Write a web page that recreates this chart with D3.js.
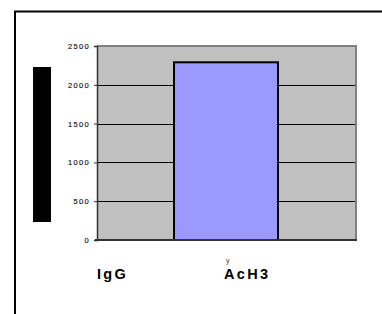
<!DOCTYPE html>
<html><head><meta charset="utf-8">
<script src="https://cdn.jsdelivr.net/npm/d3@7"></script>
<style>body{margin:0;background:#fff;}svg{display:block;}</style>
</head><body>
<svg id="c" width="382" height="314"></svg>
<script>
const categories = ["IgG", "AcH3"];
const values = [0, 2290];
const yTicks = [0, 500, 1000, 1500, 2000, 2500];
const yMax = 2500;

const svg = d3.select("#c");
// outer frame (extends beyond right/bottom)
svg.append("path").attr("d","M15,400 L15,11.5 L400,11.5").attr("fill","none").attr("stroke","#000").attr("stroke-width",2);

const L=97, R=356, T=46, B=240;
const x = d3.scaleBand().domain(categories).range([18, 278]).paddingInner(1/3).paddingOuter(0);
const y = d3.scaleLinear().domain([0, yMax]).range([B, T]);

// plot background
svg.append("rect").attr("x",L).attr("y",T).attr("width",R-L).attr("height",B-T).attr("fill","#c0c0c0");
// gridlines
svg.append("g").selectAll("line").data(yTicks.filter(d=>d>0 && d<yMax)).join("line")
  .attr("x1",L).attr("x2",R).attr("y1",d=>Math.round(y(d))+0.5).attr("y2",d=>Math.round(y(d))+0.5)
  .attr("stroke","#000").attr("stroke-width",1);
// plot border top/right
svg.append("path").attr("d",`M${L},${T} L${R},${T} L${R},${B}`).attr("fill","none").attr("stroke","#808080").attr("stroke-width",2);

// bars
svg.append("g").selectAll("rect").data(categories.map((c,i)=>({c,v:values[i]})).filter(d=>d.v>0)).join("rect")
  .attr("x",d=>x(d.c)).attr("width",x.bandwidth())
  .attr("y",d=>y(d.v)).attr("height",d=>B-y(d.v))
  .attr("fill","#9999ff").attr("stroke","#000").attr("stroke-width",2);

// y axis
const yAxis = d3.axisLeft(y).tickValues(yTicks).tickSize(3).tickPadding(4).tickFormat(d3.format("d"));
const ga = svg.append("g").attr("transform",`translate(${L},0)`).call(yAxis);
ga.select(".domain").attr("stroke","#333").attr("stroke-width",1.5);
ga.selectAll(".tick line").attr("stroke","#333");
ga.selectAll("text").attr("font-family","Arial, 'Liberation Sans', sans-serif").attr("font-size",7.5)
  .attr("fill","#111").attr("letter-spacing","1.3px").attr("stroke","#111").attr("stroke-width",0.15);
// x axis line
svg.append("line").attr("x1",L-2).attr("x2",R+1).attr("y1",B).attr("y2",B).attr("stroke","#333").attr("stroke-width",2);

// black rectangle (axis title placeholder)
svg.append("rect").attr("x",33).attr("y",67).attr("width",18).attr("height",155).attr("fill","#000");

// category labels
const labOff = {"IgG":79, "AcH3":50};
svg.append("g").selectAll("text").data(categories).join("text")
  .attr("x",d=>x(d)+labOff[d]).attr("y",279)
  .attr("font-family","Arial, 'Liberation Sans', sans-serif").attr("font-weight","bold").attr("font-size",14.5)
  .attr("letter-spacing","2.3px").attr("fill","#000").text(d=>d);
svg.append("text").attr("x",x("AcH3")+52).attr("y",263).attr("font-family","Arial, 'Liberation Sans', sans-serif")
  .attr("font-size",7).attr("fill","#333").text("y");
</script>
</body></html>
